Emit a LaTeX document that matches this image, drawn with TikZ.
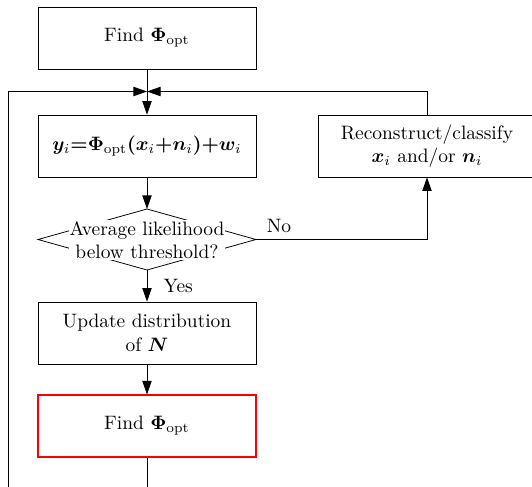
\documentclass[tikz,border=0pt]{standalone}
\usepackage{amsmath,bm}
\usetikzlibrary{arrows.meta}
\begin{document}
\begin{tikzpicture}[x=0.515pt,y=-0.515pt,
  box/.style={draw,rectangle,minimum width=112.3pt,minimum height=31.9pt,inner sep=2pt,align=center},
  redbox/.style={box,draw=red,line width=0.6pt},
  arr/.style={-{Triangle[length=7pt,width=4.8pt]}},
  qtext/.style={fill=white,inner sep=0.5pt,align=center}]
\clip (0,0) rectangle (532,487);
\node[box] (find) at (147,38) {Find $\bm{\Phi}_{\mathrm{opt}}$};
\node[box] (meas) at (147,146) {$\bm{y}_i{\bm{=}}\bm{\Phi}_{\mathrm{opt}}{\bm{(}}\bm{x}_i{\bm{+}}\bm{n}_i{\bm{)}}{\bm{+}}\bm{w}_i$};
\node[box] (rec) at (427,146) {Reconstruct/classify\\$\bm{x}_i$ and/or $\bm{n}_i$};
\node[box] (upd) at (147,333) {Update distribution\\of $\bm{N}$};
\node[redbox] (find2) at (147,426) {Find $\bm{\Phi}_{\mathrm{opt}}$};
\coordinate (j) at (147,91.5);
\coordinate (dl) at (38,239.5);
\coordinate (dr) at (256,239.5);
\coordinate (dt) at (147,209);
\coordinate (db) at (147,270);
\coordinate (bot) at (147,520);
\coordinate (lft) at (8,520);
\draw (dl) -- (dt) -- (dr) -- (db) -- cycle;
\node[qtext] (q) at (147,240) {Average likelihood\\below threshold?};
\draw[arr] (find) -- (meas);
\draw[arr] (meas) -- (dt);
\draw[arr] (db) -- (upd) node[midway,anchor=west,xshift=5pt] (yes) {Yes};
\draw[arr] (dr) -| (rec.south) node[pos=0.067,above] (no) {No};
\draw[arr] (rec.north) |- (j);
\draw[arr] (upd) -- (find2);
\draw[arr] (find2) -- (bot) -- (lft) |- (j);
\end{tikzpicture}
\end{document}
